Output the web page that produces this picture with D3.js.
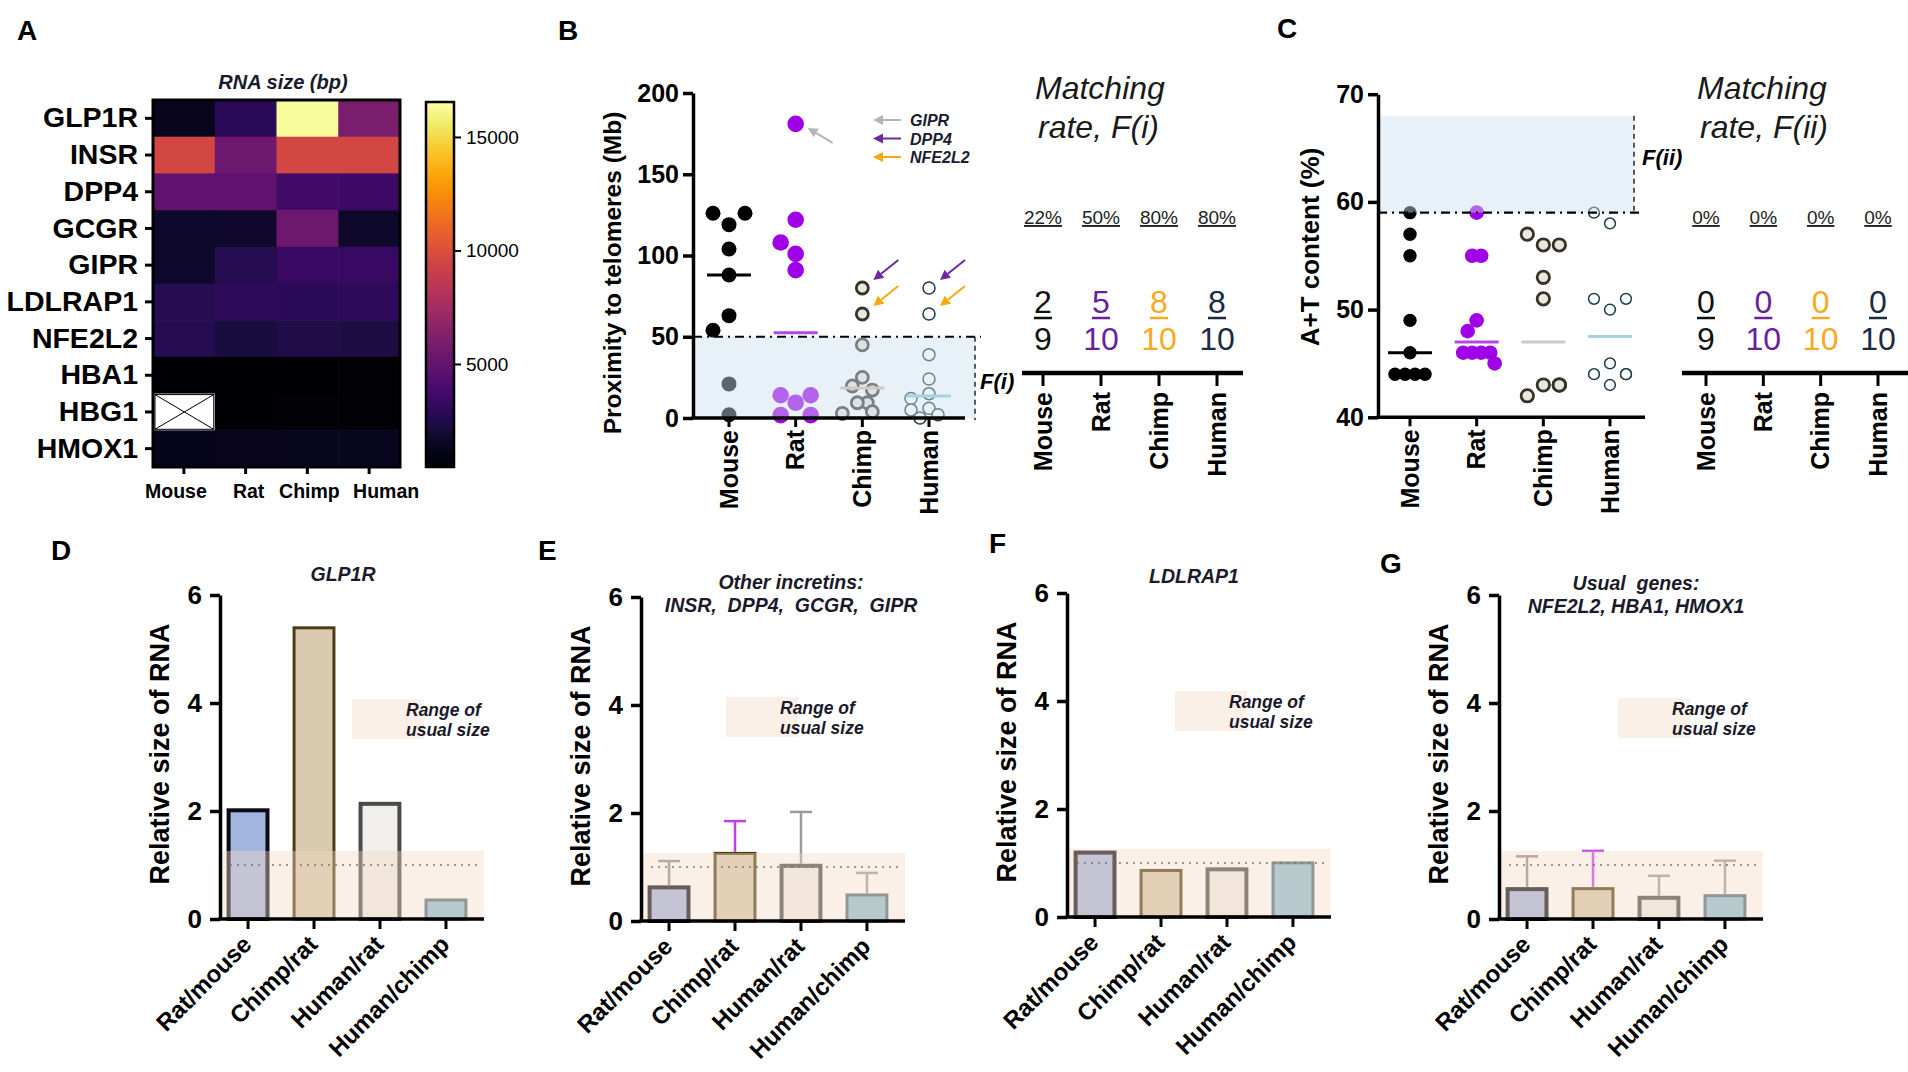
<!DOCTYPE html>
<html><head><meta charset="utf-8">
<script src="https://cdn.jsdelivr.net/npm/d3@7"></script>
<style>body{margin:0;background:#fff}svg{display:block}</style>
</head><body><svg id="c" width="1908" height="1072"></svg>
<script>
// ================= DATA =================
const species = ["Mouse","Rat","Chimp","Human"];
const genes = ["GLP1R","INSR","DPP4","GCGR","GIPR","LDLRAP1","NFE2L2","HBA1","HBG1","HMOX1"];
// RNA size (bp) per gene, one array per species (null = no data)
const sizeMouse = [1300, 9600, 4800, 1700, 1700, 2700, 2700, 550, null, 1250];
const sizeRat   = [2900, 5300, 4800, 1750, 2700, 3000, 2200, 580, 580, 1300];
const sizeChimp = [16400, 9600, 3700, 5400, 3300, 2850, 2450, 580, 590, 1400];
const sizeHuman = [5900, 9600, 3600, 1700, 3300, 3000, 2350, 600, 590, 1400];
const sizeDomain = [460, 16540];
const colorTicks = [5000, 10000, 15000];

// Proximity to telomeres (Mb)
const telMouse = [119, 126, 126, 104, 88, 63, 54, 21, 2];
const telRat   = [122, 181, 101, 91, 108, 9.4, 14, 14, 1.8, 1.8];
const telChimp = [80, 64, 45, 25, 19.7, 17.2, 9.4, 9.4, 3.9, 2.9];
const telHuman = [80, 64, 39, 24, 15, 12, 6, 5, 2, 0];
const telThreshold = 50;
const telTicks = [0, 50, 100, 150, 200];

// A+T content (%)
const atMouse = [59, 57, 55, 49, 46, 44, 44, 44, 44];
const atRat   = [59, 55, 55, 49, 48, 46, 46, 46, 46, 45];
const atChimp = [56, 56, 57, 53, 51, 43, 43, 42, 43, 43];
const atHuman = [58, 59, 50, 51, 51, 45, 44, 43, 44, 44];
const atRange = [59, 68];
const atTicks = [40, 50, 60, 70];

// annotated genes (arrows in B)
const arrowGenes   = ["GIPR", "DPP4", "NFE2L2"];
const arrowSpecies = ["Rat", "Chimp", "Chimp", "Human", "Human"];
const arrowValues  = [181, 80, 64, 80, 64];
const arrowTarget  = ["GIPR", "DPP4", "NFE2L2", "DPP4", "NFE2L2"];

// Relative size of RNA
const ratioLabels = ["Rat/mouse", "Chimp/rat", "Human/rat", "Human/chimp"];
const glp1rRatio    = [2.05, 5.42, 2.17, 0.38];
const incretinRatio = [0.66, 1.28, 1.06, 0.51];
const incretinErr   = [0.45, 0.57, 0.96, 0.38];
const ldlrap1Ratio  = [1.23, 0.89, 0.92, 1.03];
const usualRatio    = [0.59, 0.59, 0.43, 0.46];
const usualErr      = [0.57, 0.67, 0.37, 0.62];
const usualBand = [0, 1.26];
const refLine = 1;
const ratioTicks = [0, 2, 4, 6];

// ================= STYLE =================
const F = "'Liberation Sans', Arial, Helvetica, sans-serif";
const svg = d3.select("#c").style("font-family", F);
const defs = svg.append("defs");
const intFmt = d3.format("d");

function txt(g, x, y, s, size, o = {}) {
  return g.append("text").attr("x", x).attr("y", y).text(s)
    .attr("font-size", size).attr("font-family", F)
    .attr("font-weight", o.weight || "bold")
    .attr("font-style", o.italic ? "italic" : "normal")
    .attr("text-anchor", o.anchor || "start")
    .attr("fill", o.fill || "#000");
}
function styleAxis(a, size, sw, weight) {
  a.attr("font-family", F);
  a.selectAll("text").attr("font-size", size).attr("font-weight", weight || "bold").attr("fill", "#000").attr("font-family", F);
  a.selectAll("line").attr("stroke", "#000").attr("stroke-width", sw);
  a.select(".domain").attr("stroke", "#000").attr("stroke-width", sw);
}
function arrow(g, x1, y1, x2, y2, color, sw = 2) {
  const ang = Math.atan2(y2 - y1, x2 - x1), L = 10, W = 5;
  const bx = x2 - L * Math.cos(ang), by = y2 - L * Math.sin(ang);
  g.append("line").attr("x1", x1).attr("y1", y1).attr("x2", bx).attr("y2", by)
    .attr("stroke", color).attr("stroke-width", sw);
  const px = -Math.sin(ang) * W, py = Math.cos(ang) * W;
  g.append("path").attr("d", `M${x2},${y2}L${bx + px},${by + py}L${bx - px},${by - py}Z`).attr("fill", color);
}
// simple beeswarm layout (GraphPad-like column scatter)
function swarm(values, yScale, o) {
  const placed = [];
  const maxK = o.maxK == null ? 30 : o.maxK;
  const sgn = o.rightFirst ? 1 : -1;
  const cands = [0];
  for (let k = 1; k <= maxK; k++) { cands.push(sgn * k * o.step, -sgn * k * o.step); }
  const free = (c, v, y) => placed.every(p => p.v === v
    ? Math.abs(p.dx - c) >= o.step * 0.99
    : Math.hypot(p.dx - c, p.y - y) >= o.minDist);
  values.forEach(v => {
    const y = yScale(v);
    let off = null;
    for (const c of cands) { if (free(c, v, y)) { off = c; break; } }
    if (off === null) {
      const same = placed.filter(p => p.v === v);
      off = same.length ? same[same.length - 1].dx : 0;
    }
    placed.push({ v, y, dx: off });
  });
  if (o.recenter) {
    d3.group(placed, p => p.v).forEach(arr => {
      if (arr.length < 2) return;
      const m = d3.mean(arr, p => p.dx);
      arr.forEach(p => p.dx -= m);
    });
  }
  return placed;
}

// panel letters
[["A", 17, 40], ["B", 558, 40], ["C", 1277, 38], ["D", 51, 560], ["E", 538, 560], ["F", 989, 553], ["G", 1380, 573]]
  .forEach(([s, x, y]) => txt(svg, x, y, s, 28));

// ================= A : heatmap =================
{
  const g = svg.append("g");
  const hx = d3.scaleBand(species, [153, 400]);
  const hy = d3.scaleBand(genes, [100, 467]);
  const cols = [sizeMouse, sizeRat, sizeChimp, sizeHuman];
  const color = d3.scaleSequential(d3.interpolateInferno).domain(sizeDomain);
  const cells = [];
  genes.forEach((gn, i) => species.forEach((sp, j) => cells.push({ gn, sp, v: cols[j][i] })));
  g.selectAll("rect.cell").data(cells).join("rect")
    .attr("x", d => hx(d.sp)).attr("y", d => hy(d.gn))
    .attr("width", hx.bandwidth() + 0.6).attr("height", hy.bandwidth() + 0.6)
    .attr("fill", d => d.v == null ? "#fff" : color(d.v));
  cells.filter(d => d.v == null).forEach(d => {
    const x0 = hx(d.sp) + 2, y0 = hy(d.gn) + 1, w = hx.bandwidth() - 3, h = hy.bandwidth() - 2;
    g.append("rect").attr("x", x0).attr("y", y0).attr("width", w).attr("height", h)
      .attr("fill", "#fff").attr("stroke", "#000").attr("stroke-width", 1);
    g.append("line").attr("x1", x0).attr("y1", y0).attr("x2", x0 + w).attr("y2", y0 + h).attr("stroke", "#000");
    g.append("line").attr("x1", x0 + w).attr("y1", y0).attr("x2", x0).attr("y2", y0 + h).attr("stroke", "#000");
  });
  g.append("rect").attr("x", 153).attr("y", 100).attr("width", 247).attr("height", 367)
    .attr("fill", "none").attr("stroke", "#000").attr("stroke-width", 3);
  const ay = g.append("g").attr("transform", "translate(152,0)")
    .call(d3.axisLeft(hy).tickSize(7).tickPadding(7));
  ay.select(".domain").remove();
  styleAxis(ay, 28.5, 3);
  const ax = g.append("g").attr("transform", "translate(0,468)")
    .call(d3.axisBottom(hx).tickSize(6).tickPadding(10));
  ax.select(".domain").remove();
  styleAxis(ax, 19.5, 3);
  const labelShift = { Mouse: -8, Rat: 3, Chimp: 2, Human: 17 };
  ax.selectAll(".tick text").attr("dx", d => labelShift[d]);
  txt(g, 283, 89, "RNA size (bp)", 20, { italic: true, anchor: "middle", fill: "#1a1a2e" });
  // colour bar
  const grad = defs.append("linearGradient").attr("id", "inf").attr("x1", 0).attr("y1", 1).attr("x2", 0).attr("y2", 0);
  d3.range(0, 1.0001, 0.05).forEach(t => grad.append("stop").attr("offset", t).attr("stop-color", d3.interpolateInferno(t)));
  g.append("rect").attr("x", 426).attr("y", 102).attr("width", 28).attr("height", 365)
    .attr("fill", "url(#inf)").attr("stroke", "#000").attr("stroke-width", 2.5);
  const cs = d3.scaleLinear(sizeDomain, [467, 102]);
  const ac = g.append("g").attr("transform", "translate(455,0)")
    .call(d3.axisRight(cs).tickValues(colorTicks).tickFormat(intFmt).tickSize(6).tickPadding(5).tickSizeOuter(0));
  ac.select(".domain").remove();
  styleAxis(ac, 19, 2, "normal");
}

// ================= scatter helper (B, C) =================
const ptStyle = {
  Mouse: { fill: "#000", stroke: "none", sw: 0 },
  Rat:   { fill: "#a000e6", stroke: "none", sw: 0 },
  Chimp: { fill: "#ebe7dd", stroke: "#34342c", sw: 2.8 },
  Human: { fill: "#fff", stroke: "#1d3b4a", sw: 1.5 }
};
const medColor = { Mouse: "#000", Rat: "#b048e8", Chimp: "#cfcbc4", Human: "#a6d2e6" };
const fracColor = { Mouse: "#111", Rat: "#6a1f9e", Chimp: "#f8a823", Human: "#1c2b45" };

function scatterPanel(cfg) {
  const g = svg.append("g");
  const { x, y, sets, radii, swarmP } = cfg;
  species.forEach((sp, i) => {
    const pts = swarm(sets[i], y, swarmP[sp]);
    const st = ptStyle[sp];
    g.selectAll(null).data(pts).join("circle")
      .attr("cx", d => x(sp) + d.dx).attr("cy", d => d.y).attr("r", radii[sp])
      .attr("fill", st.fill).attr("stroke", st.stroke).attr("stroke-width", st.sw);
  });
  // shaded matching zone (drawn over points, semi transparent)
  const [lo, hi] = cfg.zone;
  g.append("rect").attr("x", cfg.ax).attr("y", y(hi)).attr("width", cfg.zoneRight - cfg.ax)
    .attr("height", y(lo) - y(hi)).attr("fill", "#ccdef0").attr("opacity", 0.45);
  g.append("line").attr("x1", cfg.ax).attr("x2", cfg.zoneRight + 6).attr("y1", y(cfg.lineAt)).attr("y2", y(cfg.lineAt))
    .attr("stroke", "#000").attr("stroke-width", 2.2).attr("stroke-dasharray", "9,5,2,5");
  g.append("line").attr("x1", cfg.zoneRight).attr("x2", cfg.zoneRight)
    .attr("y1", y(hi)).attr("y2", y(lo) + 2)
    .attr("stroke", "#333").attr("stroke-width", 1.6).attr("stroke-dasharray", "5,4");
  // medians
  species.forEach((sp, i) => {
    const m = d3.median(sets[i]);
    g.append("line").attr("x1", x(sp) - 22).attr("x2", x(sp) + 22).attr("y1", y(m)).attr("y2", y(m))
      .attr("stroke", medColor[sp]).attr("stroke-width", 3);
  });
  // axes
  const ay = g.append("g").attr("transform", `translate(${cfg.ax},0)`)
    .call(d3.axisLeft(y).tickValues(cfg.ticks).tickFormat(intFmt).tickSize(10).tickPadding(4).tickSizeOuter(0));
  styleAxis(ay, 25, 3.5);
  const y0 = y.range()[0];
  g.append("line").attr("x1", cfg.ax - 1.5).attr("x2", cfg.axEnd).attr("y1", y0).attr("y2", y0)
    .attr("stroke", "#000").attr("stroke-width", 3.5);
  species.forEach(sp => {
    g.append("line").attr("x1", x(sp)).attr("x2", x(sp)).attr("y1", y0).attr("y2", y0 + 9)
      .attr("stroke", "#000").attr("stroke-width", 3);
    txt(g, 0, 0, sp, 25, { anchor: "end" }).attr("transform", `translate(${x(sp)},${y0 + 12}) rotate(-90)`).attr("dy", "0.35em");
  });
  txt(g, 0, 0, cfg.ylabel, cfg.ylabelSize, { anchor: "middle" })
    .attr("transform", `translate(${cfg.ylabelX},${cfg.ylabelY}) rotate(-90)`);
  txt(g, cfg.fx, cfg.fy, cfg.flabel, 22, { italic: true });
  return g;
}

function matchPanel(cfg) {
  const g = svg.append("g");
  const x = d3.scalePoint(species, cfg.range);
  txt(g, cfg.tx, 99, "Matching", 32, { weight: "normal", italic: true, fill: "#1a1a1a" });
  txt(g, cfg.tx + 3, 138, cfg.title2, 32, { weight: "normal", italic: true, fill: "#1a1a1a" });
  species.forEach((sp, i) => {
    const vals = cfg.sets[i];
    const k = vals.filter(cfg.match).length, n = vals.length;
    const cx = x(sp);
    txt(g, cx, 224, d3.format(".0%")(k / n), 19, { weight: "normal", anchor: "middle", fill: "#222" })
      .style("text-decoration", "underline");
    txt(g, cx, 313, String(k), 32, { weight: "normal", anchor: "middle", fill: fracColor[sp] });
    g.append("line").attr("x1", cx - 9).attr("x2", cx + 9).attr("y1", 318).attr("y2", 318)
      .attr("stroke", fracColor[sp]).attr("stroke-width", 2.5);
    txt(g, cx, 350, String(n), 32, { weight: "normal", anchor: "middle", fill: fracColor[sp] });
    g.append("line").attr("x1", cx).attr("x2", cx).attr("y1", 373).attr("y2", 386)
      .attr("stroke", "#000").attr("stroke-width", 3);
    txt(g, 0, 0, sp, 25, { anchor: "end" }).attr("transform", `translate(${cx},392) rotate(-90)`).attr("dy", "0.35em");
  });
  g.append("line").attr("x1", cfg.axis[0]).attr("x2", cfg.axis[1]).attr("y1", 373).attr("y2", 373)
    .attr("stroke", "#000").attr("stroke-width", 4.5);
}

// ================= B =================
{
  const yB = d3.scaleLinear([0, 200], [418, 93]);
  const xB = d3.scalePoint(species, [729, 929]);
  const g = scatterPanel({
    x: xB, y: yB, sets: [telMouse, telRat, telChimp, telHuman],
    radii: { Mouse: 7.5, Rat: 8.3, Chimp: 6, Human: 6 },
    swarmP: {
      Mouse: { step: 16, minDist: 15.5, recenter: true },
      Rat:   { step: 15, minDist: 16.2, recenter: true },
      Chimp: { step: 10, minDist: 12, recenter: true },
      Human: { step: 9, minDist: 10.5, recenter: true }
    },
    zone: [0, telThreshold], lineAt: telThreshold, ax: 693, zoneRight: 975, axEnd: 965,
    ticks: telTicks, ylabel: "Proximity to telomeres (Mb)", ylabelSize: 24.5, ylabelX: 621, ylabelY: 273,
    flabel: "F(i)", fx: 980, fy: 389
  });
  // legend arrows
  const aCol = { GIPR: "#b4b4b4", DPP4: "#6b2aa0", NFE2L2: "#f5a910" };
  arrowGenes.forEach((gn, i) => {
    const yy = 120 + i * 18.5;
    arrow(g, 901, yy, 873, yy, aCol[gn]);
    txt(g, 910, yy + 6, gn, 16, { italic: true, fill: "#1c1c30" });
  });
  arrowSpecies.forEach((sp, i) => {
    const px = xB(sp), py = yB(arrowValues[i]), gn = arrowTarget[i];
    if (gn === "GIPR") arrow(g, px + 37, py + 19, px + 12, py + 4, aCol[gn]);
    else arrow(g, px + 36, py - 28, px + 11, py - 8, aCol[gn]);
  });
  matchPanel({ range: [1043, 1217], axis: [1022, 1243], tx: 1035, title2: "rate, F(i)",
    sets: [telMouse, telRat, telChimp, telHuman], match: v => v < telThreshold });
}

// ================= C =================
{
  const yC = d3.scaleLinear([40, 70], [417.3, 94.2]);
  const xC = d3.scalePoint(species, [1410, 1610]);
  scatterPanel({
    x: xC, y: yC, sets: [atMouse, atRat, atChimp, atHuman],
    radii: { Mouse: 6.7, Rat: 7.3, Chimp: 6.2, Human: 5.4 },
    swarmP: {
      Mouse: { step: 10, minDist: 13, recenter: true },
      Rat:   { step: 9, minDist: 13, recenter: true },
      Chimp: { step: 16, minDist: 14, maxK: 1, rightFirst: true, recenter: false },
      Human: { step: 16, minDist: 13, maxK: 1, recenter: false }
    },
    zone: atRange, lineAt: atRange[0], ax: 1378, zoneRight: 1634, axEnd: 1645,
    ticks: atTicks, ylabel: "A+T content (%)", ylabelSize: 26, ylabelX: 1319, ylabelY: 247,
    flabel: "F(ii)", fx: 1642, fy: 165
  });
  matchPanel({ range: [1706, 1878], axis: [1682, 1908], tx: 1697, title2: "rate, F(ii)",
    sets: [atMouse, atRat, atChimp, atHuman], match: v => v > atRange[0] && v <= atRange[1] });
}

// ================= D - G : bar panels =================
const barFill   = ["#a3b6e0", "#d9cab0", "#f0efeb", "#8cbfd2"];
const barStroke = ["#0a0a14", "#4d3b12", "#4a4a4a", "#4f6c78"];
const barSW     = [4, 3, 4, 3];
const errColor  = ["#8a8a8a", "#c43ee8", "#9a9a9a", "#9a9a9a"];
const barPanels = [
  { x0: 220, y0: 919, vals: glp1rRatio, err: null, title: ["GLP1R"], ty: [-338], tx: 123, leg: [132, -220] },
  { x0: 641, y0: 921, vals: incretinRatio, err: incretinErr, title: ["Other incretins:", "INSR,  DPP4,  GCGR,  GIPR"], ty: [-332, -309], tx: 150, leg: [85, -224] },
  { x0: 1067, y0: 917, vals: ldlrap1Ratio, err: null, title: ["LDLRAP1"], ty: [-334], tx: 127, leg: [108, -226] },
  { x0: 1499, y0: 919, vals: usualRatio, err: usualErr, title: ["Usual  genes:", "NFE2L2, HBA1, HMOX1"], ty: [-329, -306], tx: 137, leg: [119, -221] }
];
barPanels.forEach(p => {
  const g = svg.append("g");
  const W = 264, H = 324;
  const x = d3.scaleBand(ratioLabels, [p.x0, p.x0 + 254]).paddingInner(0.35).paddingOuter(0.1);
  const y = d3.scaleLinear([0, 6], [p.y0, p.y0 - H]);
  const bw = x.bandwidth();
  ratioLabels.forEach((l, i) => {
    const v = p.vals[i];
    g.append("rect").attr("x", x(l) + barSW[i] / 2).attr("y", y(v) + barSW[i] / 2)
      .attr("width", bw - barSW[i]).attr("height", Math.max(0, p.y0 - y(v) - barSW[i] / 2))
      .attr("fill", barFill[i]).attr("stroke", barStroke[i]).attr("stroke-width", barSW[i]);
    if (p.err) {
      const cx = x(l) + bw / 2, top = y(v + p.err[i]);
      g.append("line").attr("x1", cx).attr("x2", cx).attr("y1", y(v)).attr("y2", top)
        .attr("stroke", errColor[i]).attr("stroke-width", 2.5);
      g.append("line").attr("x1", cx - 11).attr("x2", cx + 11).attr("y1", top).attr("y2", top)
        .attr("stroke", errColor[i]).attr("stroke-width", 2.5);
    }
  });
  // usual range band (over bars)
  g.append("rect").attr("x", p.x0).attr("y", y(usualBand[1])).attr("width", W)
    .attr("height", y(usualBand[0]) - y(usualBand[1])).attr("fill", "#f5d9c4").attr("opacity", 0.4);
  g.append("line").attr("x1", p.x0 + 10).attr("x2", p.x0 + W - 6).attr("y1", y(refLine)).attr("y2", y(refLine))
    .attr("stroke", "#777").attr("stroke-width", 1.6).attr("stroke-dasharray", "2,5");
  // axes
  const ay = g.append("g").attr("transform", `translate(${p.x0},0)`)
    .call(d3.axisLeft(y).tickValues(ratioTicks).tickFormat(intFmt).tickSize(10).tickPadding(8).tickSizeOuter(0));
  styleAxis(ay, 26, 3.5);
  g.append("line").attr("x1", p.x0 - 1.5).attr("x2", p.x0 + W).attr("y1", p.y0).attr("y2", p.y0)
    .attr("stroke", "#000").attr("stroke-width", 3.5);
  ratioLabels.forEach(l => {
    const cx = x(l) + bw / 2;
    g.append("line").attr("x1", cx).attr("x2", cx).attr("y1", p.y0).attr("y2", p.y0 + 10)
      .attr("stroke", "#000").attr("stroke-width", 3);
    txt(g, 0, 0, l, 24, { anchor: "end" }).attr("transform", `translate(${cx - 1},${p.y0 + 21}) rotate(-45)`).attr("dy", "0.35em");
  });
  txt(g, 0, 0, "Relative size of RNA", 27, { anchor: "middle" })
    .attr("transform", `translate(${p.x0 - 51},${p.y0 - 165}) rotate(-90)`);
  p.title.forEach((t, i) => txt(g, p.x0 + p.tx, p.y0 + p.ty[i], t, 19.5, { italic: true, anchor: "middle", fill: "#1a1a2a" }).style("white-space", "pre"));
  // legend
  const lx = p.x0 + p.leg[0], ly = p.y0 + p.leg[1];
  g.append("rect").attr("x", lx).attr("y", ly).attr("width", 72).attr("height", 40).attr("fill", "#fbf0e7");
  txt(g, lx + 54, ly + 17, "Range of", 17.5, { italic: true, fill: "#1a1a2a" });
  txt(g, lx + 54, ly + 37, "usual size", 17.5, { italic: true, fill: "#1a1a2a" });
});
</script>
</body></html>
